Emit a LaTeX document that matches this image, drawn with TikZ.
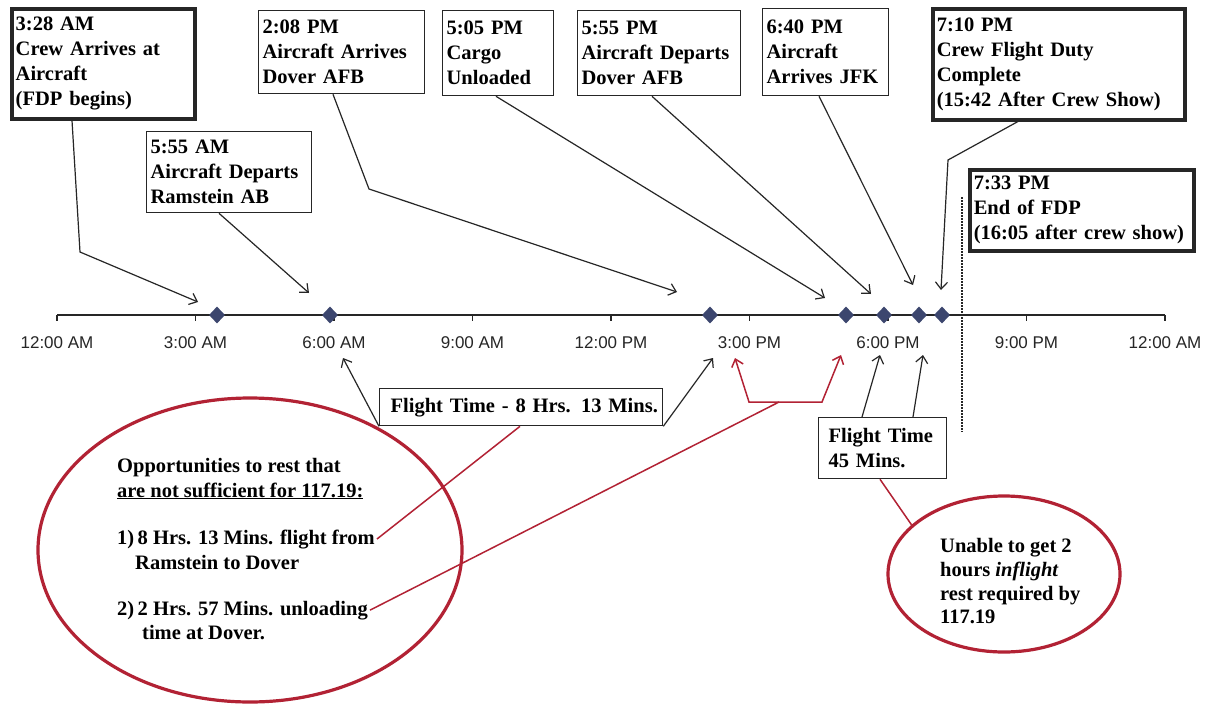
\documentclass[tikz,border=0pt]{standalone}
\usepackage{fontspec}
\setmainfont{Liberation Serif}
\newfontfamily\axisfont{Liberation Sans}
\usetikzlibrary{arrows.meta,shapes.geometric,calc}
\definecolor{redc}{RGB}{178,34,52}
\definecolor{diac}{RGB}{60,70,110}
\begin{document}
\begin{tikzpicture}[x=1pt,y=-1pt,
  ln/.style={draw=black!85, line width=1.2pt},
  arr/.style={ln, -{Straight Barb[length=7pt,width=12pt]}},
  rl/.style={draw=redc, line width=1.5pt},
  rarr/.style={rl, -{Straight Barb[length=7pt,width=12pt]}},
  bx/.style={draw=black!85, line width=1.3pt, fill=white, align=left, anchor=north west,
    font=\fontsize{20.5}{25}\selectfont\bfseries, inner xsep=4pt, inner ysep=2pt},
  thickbx/.style={bx, line width=3.5pt},
  txt/.style={anchor=base west, inner sep=0pt, font=\fontsize{20.5}{25}\selectfont\bfseries},
  lab/.style={font=\axisfont\fontsize{17}{20}\selectfont, text=black!85, inner sep=0pt},
  dia/.style={diamond, fill=diac, inner sep=0pt, minimum width=16pt, minimum height=17pt},
  redell/.style={ellipse, draw=redc, line width=3.2pt, inner sep=0pt}
]
\fill[white] (0,0) rectangle (1207,704);
\useasboundingbox (0,0) rectangle (1207,704);

% red ellipses
\node[redell, minimum width=424pt, minimum height=304pt] (e1) at (250,550) {};
\node[redell, minimum width=232pt, minimum height=156pt] (e2) at (1004,574) {};

% axis
\draw[ln] (57,315) -- (1165,315);
\foreach \i/\t in {0/12:00 AM,1/3:00 AM,2/6:00 AM,3/9:00 AM,4/12:00 PM,5/3:00 PM,6/6:00 PM,7/9:00 PM,8/12:00 AM}{
  \draw[ln] ({57+138.5*\i},315) -- ++(0,6);
  \node[lab] (lab\i) at ({57+138.5*\i},343) {\t};
}

% dotted end of FDP
\coordinate (dtop) at (962,197);
\coordinate (dbot) at (962,432);
\draw[black!85, line width=1.7pt, dash pattern=on 1.7pt off 1.3pt] (dtop) -- (dbot);

% diamonds
\node[dia] (d1) at (217,315) {};
\node[dia] (d2) at (330,315) {};
\node[dia] (d3) at (710,315) {};
\node[dia] (d4) at (846,315) {};
\node[dia] (d5) at (884,315) {};
\node[dia] (d6) at (919,315) {};
\node[dia] (d7) at (942,315) {};

% top boxes
\node[thickbx, minimum width=183pt, text width=175pt, minimum height=110pt] (b1) at (10,7)
  {3:28 AM\\Crew Arrives at\\Aircraft\\(FDP begins)};
\node[bx, minimum width=165pt, text width=157pt, minimum height=81pt] (b2) at (146,131)
  {5:55 AM\\Aircraft Departs\\Ramstein AB};
\node[bx, minimum width=166pt, text width=158pt, minimum height=83pt] (b3) at (258,10)
  {2:08 PM\\Aircraft Arrives\\Dover AFB};
\node[bx, minimum width=111pt, text width=103pt, minimum height=85pt] (b4) at (442,10)
  {5:05 PM\\Cargo\\Unloaded};
\node[bx, minimum width=163pt, text width=155pt, minimum height=85pt] (b5) at (577,10)
  {5:55 PM\\Aircraft Departs\\Dover AFB};
\node[bx, minimum width=126pt, text width=118pt, minimum height=87pt] (b6) at (762,8)
  {6:40 PM\\Aircraft\\Arrives JFK};
\node[thickbx, minimum width=252pt, text width=244pt, minimum height=111pt] (b7) at (931,7)
  {7:10 PM\\Crew Flight Duty\\Complete\\(15:42 After Crew Show)};
\node[thickbx, minimum width=224pt, text width=216pt, minimum height=81pt] (b8) at (968,168)
  {7:33 PM\\End of FDP\\(16:05 after crew show)};

% connectors from top boxes
\coordinate (k1) at (80,252);
\coordinate (p1) at (198,302);
\draw[arr] ($(b1.south west)+(62,0)$) -- (k1) -- (p1);
\coordinate (p2) at (309,293);
\draw[arr] ($(b2.south west)+(73,0)$) -- (p2);
\coordinate (k3) at (369,189);
\coordinate (p3) at (677,292);
\draw[arr] ($(b3.south west)+(75,0)$) -- (k3) -- (p3);
\coordinate (p4) at (825,298);
\draw[arr] ($(b4.south west)+(54,0)$) -- (p4);
\coordinate (p5) at (871,294);
\draw[arr] ($(b5.south west)+(75,0)$) -- (p5);
\coordinate (p6) at (913,285);
\draw[arr] ($(b6.south west)+(57,0)$) -- (p6);
\coordinate (k7) at (948,160);
\coordinate (p7) at (941,290);
\draw[arr] ($(b7.south west)+(87,0)$) -- (k7) -- (p7);

% flight time boxes
\node[bx, minimum width=283pt, text width=275pt, minimum height=37pt, inner xsep=4pt] (f8) at (379,388)
  {\hspace{7pt}Flight Time - 8 Hrs. 13 Mins.};
\node[bx, minimum width=128pt, text width=120pt, minimum height=61pt] (f45) at (818,417)
  {\hspace{6pt}Flight Time\\\hspace{6pt}45 Mins.};

\coordinate (q1) at (343,358);
\coordinate (q2) at (713,358);
\draw[arr] (f8.south west) -- (q1);
\draw[arr] (f8.south east) -- (q2);
\coordinate (q3) at (880,355);
\coordinate (q4) at (923,355);
\draw[arr] ($(f45.north west)+(44,0)$) -- (q3);
\draw[arr] ($(f45.north west)+(95,0)$) -- (q4);

% red bracket
\coordinate (r1) at (735,358);
\coordinate (r2) at (749,402);
\coordinate (r3) at (822,402);
\coordinate (r4) at (841,355);
\coordinate (rm) at (779,402);
\draw[rl, {Straight Barb[length=7pt,width=12pt]}-{Straight Barb[length=7pt,width=12pt]}] (r1) -- (r2) -- (r3) -- (r4);

% text in ellipse 1
\node[txt] (o1) at (117,472) {Opportunities to rest that};
\node[txt] (o2) at (117,497) {\underline{are not sufficient for 117.19:}};
\node[txt] (o3) at (117,544) {1)\,8 Hrs. 13 Mins. flight from};
\node[txt] (o4) at (135,569) {Ramstein to Dover};
\node[txt] (o5) at (117,615) {2)\,2 Hrs. 57 Mins. unloading};
\node[txt] (o6) at (142,639) {time at Dover.};

% text in ellipse 2
\node[txt] (u1) at (940,552) {Unable to get 2};
\node[txt] (u2) at (940,576) {hours \textit{inflight}};
\node[txt] (u3) at (940,600) {rest required by};
\node[txt] (u4) at (940,623) {117.19};

% red connectors
\draw[rl] ($(o3.east)+(2,0)$) -- ($(f8.south west)+(141,0)$);
\draw[rl] ($(o5.east)+(2,0)$) -- (rm);
\draw[rl] ($(f45.south west)+(62,0)$) -- (e2.152);
\end{tikzpicture}
\end{document}
